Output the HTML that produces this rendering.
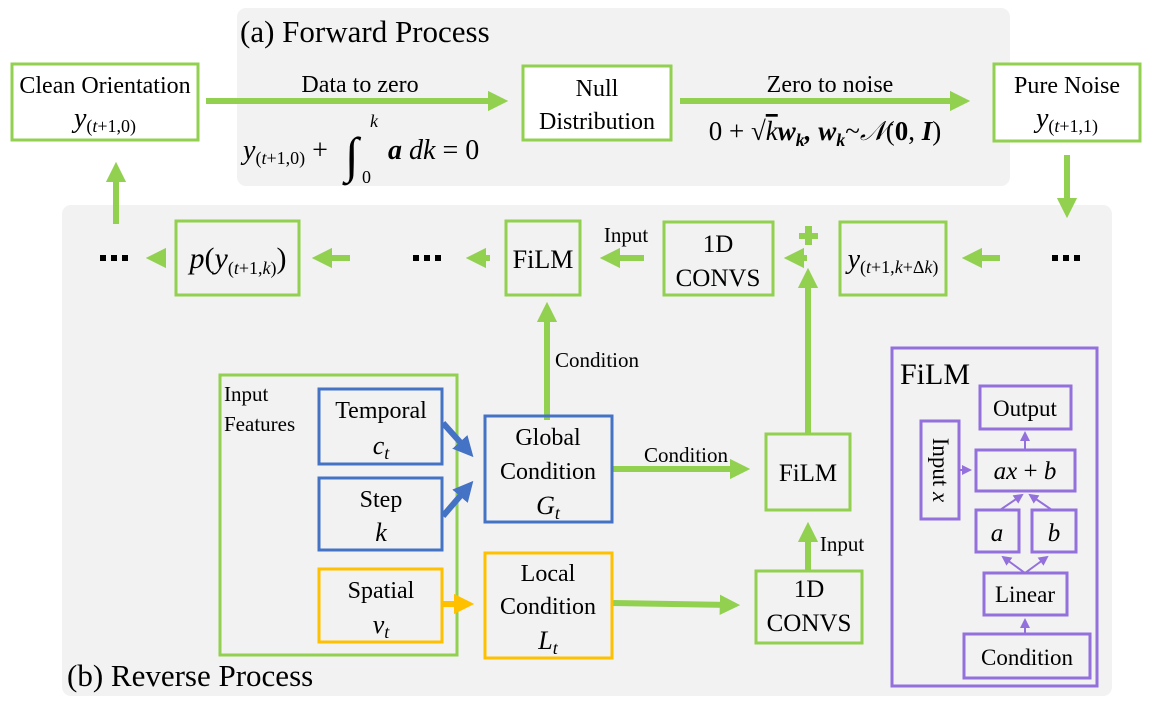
<!DOCTYPE html>
<html><head><meta charset="utf-8"><style>
html,body{margin:0;padding:0;background:#fff}
svg{display:block}
text,tspan{font-family:"Liberation Serif","DejaVu Serif",serif;fill:#000}
.m{font-style:italic}
</style></head><body>
<svg width="1152" height="709" viewBox="0 0 1152 709" xmlns="http://www.w3.org/2000/svg" font-family="Liberation Serif, serif">
<defs>
<marker id="g" viewBox="0 0 10 10" markerWidth="3.4" markerHeight="3.6" refX="6" refY="5" orient="auto" markerUnits="strokeWidth"><path d="M0,0 L10,5 L0,10z" fill="#92d050"/></marker>
<marker id="b" viewBox="0 0 10 10" markerWidth="3.4" markerHeight="3.6" refX="6" refY="5" orient="auto" markerUnits="strokeWidth"><path d="M0,0 L10,5 L0,10z" fill="#4472c4"/></marker>
<marker id="y" viewBox="0 0 10 10" markerWidth="3.4" markerHeight="3.6" refX="6" refY="5" orient="auto" markerUnits="strokeWidth"><path d="M0,0 L10,5 L0,10z" fill="#ffc000"/></marker>
<marker id="p" markerWidth="6" markerHeight="6" refX="4" refY="3" orient="auto" markerUnits="strokeWidth"><path d="M0,0.5 L5,3 L0,5.5z" fill="#9370db"/></marker>
</defs>
<rect x="237" y="8" width="773" height="178" rx="9" fill="#f2f2f2"/>
<rect x="62" y="205" width="1050" height="491" rx="9" fill="#f2f2f2"/>
<g fill="#fff" stroke="#92d050" stroke-width="3">
<rect x="12" y="64" width="186" height="76"/>
<rect x="523" y="66" width="148" height="74"/>
<rect x="994" y="64" width="146" height="77"/>
</g>
<g fill="none" stroke="#92d050" stroke-width="3">
<rect x="176" y="221" width="123" height="74"/>
<rect x="506" y="221" width="74" height="74"/>
<rect x="664" y="222" width="109" height="73"/>
<rect x="840" y="222" width="106" height="73"/>
<rect x="220" y="375" width="237" height="280"/>
<rect x="766" y="434" width="84" height="76"/>
<rect x="756" y="571" width="106" height="72"/>
</g>
<g stroke="#92d050" stroke-width="6" fill="none">
<line x1="206" y1="101" x2="500" y2="101" marker-end="url(#g)"/>
<line x1="680" y1="101" x2="962" y2="101" marker-end="url(#g)"/>
<line x1="116" y1="224" x2="116" y2="170" marker-end="url(#g)"/>
<line x1="1067" y1="155" x2="1067" y2="210" marker-end="url(#g)"/>
<line x1="165" y1="258" x2="154" y2="258" marker-end="url(#g)"/>
<line x1="350" y1="258" x2="320" y2="258" marker-end="url(#g)"/>
<line x1="490" y1="258" x2="474" y2="258" marker-end="url(#g)"/>
<line x1="644" y1="258" x2="608" y2="258" marker-end="url(#g)"/>
<line x1="807" y1="258" x2="792" y2="258" marker-end="url(#g)"/>
<line x1="1000" y1="258" x2="970" y2="258" marker-end="url(#g)"/>
<line x1="547" y1="420" x2="547" y2="310" marker-end="url(#g)"/>
<line x1="808" y1="433" x2="808" y2="276" marker-end="url(#g)"/>
<line x1="612" y1="469" x2="742" y2="469" marker-end="url(#g)"/>
<line x1="808" y1="570" x2="808" y2="530" marker-end="url(#g)"/>
<line x1="612" y1="603" x2="732" y2="605" marker-end="url(#g)"/>
</g>
<rect x="799" y="233" width="19" height="6" fill="#92d050"/><rect x="805" y="226" width="7" height="19" fill="#92d050"/>
<g fill="#000"><rect x="100" y="255" width="6" height="6"/><rect x="111" y="255" width="6" height="6"/><rect x="122" y="255" width="6" height="6"/>
<rect x="413" y="255" width="6" height="6"/><rect x="424" y="255" width="6" height="6"/><rect x="435" y="255" width="6" height="6"/>
<rect x="1052" y="255" width="6" height="6"/><rect x="1063" y="255" width="6" height="6"/><rect x="1074" y="255" width="6" height="6"/></g>
<g fill="none" stroke-width="3">
<rect x="319" y="389" width="123" height="75" stroke="#4472c4"/>
<rect x="319" y="478" width="123" height="72" stroke="#4472c4"/>
<rect x="485" y="416" width="127" height="106" stroke="#4472c4"/>
<rect x="319" y="569" width="123" height="73" stroke="#ffc000"/>
<rect x="485" y="553" width="127" height="105" stroke="#ffc000"/>
</g>
<g stroke-width="6" fill="none">
<line x1="443" y1="423" x2="468" y2="451" stroke="#4472c4" marker-end="url(#b)"/>
<line x1="443" y1="516" x2="468" y2="487" stroke="#4472c4" marker-end="url(#b)"/>
<line x1="443" y1="604" x2="466" y2="604" stroke="#ffc000" marker-end="url(#y)"/>
</g>
<g fill="none" stroke="#9370db" stroke-width="3">
<rect x="892" y="348" width="205" height="338"/>
<rect x="980" y="386" width="91" height="43"/>
<rect x="921" y="421" width="38" height="98"/>
<rect x="976" y="450" width="99" height="41"/>
<rect x="976" y="510" width="43" height="42"/>
<rect x="1032" y="510" width="44" height="42"/>
<rect x="984" y="573" width="83" height="42"/>
<rect x="964" y="634" width="126" height="44"/>
</g>
<g stroke="#9370db" stroke-width="2" fill="none">
<line x1="1025" y1="450" x2="1025" y2="433" marker-end="url(#p)"/>
<line x1="959" y1="470" x2="970" y2="470" marker-end="url(#p)"/>
<line x1="1000" y1="510" x2="1022" y2="495" marker-end="url(#p)"/>
<line x1="1052" y1="510" x2="1030" y2="495" marker-end="url(#p)"/>
<line x1="1025" y1="573" x2="1003" y2="557" marker-end="url(#p)"/>
<line x1="1025" y1="573" x2="1047" y2="557" marker-end="url(#p)"/>
<line x1="1025" y1="634" x2="1025" y2="620" marker-end="url(#p)"/>
</g>
<g font-size="24" text-anchor="middle">
<text x="240" y="42" font-size="31" text-anchor="start">(a) Forward Process</text>
<text x="67" y="686" font-size="31" text-anchor="start">(b) Reverse Process</text>
<text x="105" y="93">Clean Orientation</text>
<text x="105" y="127" font-size="28" class="m">y<tspan font-size="18" font-style="normal" dy="5">(</tspan><tspan font-size="18">t</tspan><tspan font-size="18" font-style="normal">+1,0)</tspan></text>
<text x="360" y="92">Data to zero</text>
<text x="243" y="159" font-size="28" text-anchor="start" class="m">y<tspan font-size="18" font-style="normal" dy="5">(</tspan><tspan font-size="18">t</tspan><tspan font-size="18" font-style="normal">+1,0)</tspan><tspan font-style="normal" dy="-5"> +</tspan></text>
<text x="345" y="172" font-size="50" text-anchor="start" class="m">∫</text>
<text x="370" y="127" font-size="18" class="m" text-anchor="start">k</text>
<text x="362" y="183" font-size="18" text-anchor="start">0</text>
<text x="388" y="159" font-size="28" text-anchor="start"><tspan font-weight="bold" font-style="italic">a</tspan> <tspan class="m">dk</tspan> = 0</text>
<text x="597" y="96">Null</text>
<text x="597" y="129">Distribution</text>
<text x="830" y="92">Zero to noise</text>
<text x="825" y="140" font-size="27">0 + √<tspan class="m" text-decoration="overline">k</tspan><tspan font-weight="bold" font-style="italic">w<tspan font-size="18" dy="6">k</tspan><tspan dy="-6">, w</tspan><tspan font-size="18" dy="6">k</tspan></tspan><tspan dy="-6">~</tspan><tspan class="m">𝒩</tspan>(<tspan font-weight="bold">0</tspan>, <tspan font-weight="bold" font-style="italic">I</tspan>)</text>
<text x="1067" y="93">Pure Noise</text>
<text x="1067" y="127" font-size="28" class="m">y<tspan font-size="18" font-style="normal" dy="5">(</tspan><tspan font-size="18">t</tspan><tspan font-size="18" font-style="normal">+1,1)</tspan></text>
<text x="238" y="268" font-size="30" class="m">p<tspan font-style="normal">(</tspan>y<tspan font-size="18" font-style="normal" dy="6">(</tspan><tspan font-size="18">t</tspan><tspan font-size="18" font-style="normal">+1,</tspan><tspan font-size="18">k</tspan><tspan font-size="18" font-style="normal">)</tspan><tspan font-style="normal" dy="-6">)</tspan></text>
<text x="543" y="268" font-size="26">FiLM</text>
<text x="626" y="242" font-size="21">Input</text>
<text x="718" y="252" font-size="25">1D</text>
<text x="718" y="286" font-size="25">CONVS</text>
<text x="893" y="268" font-size="28" class="m">y<tspan font-size="18" font-style="normal" dy="5">(</tspan><tspan font-size="18">t</tspan><tspan font-size="18" font-style="normal">+1,</tspan><tspan font-size="18">k</tspan><tspan font-size="18" font-style="normal">+Δ</tspan><tspan font-size="18">k</tspan><tspan font-size="18" font-style="normal">)</tspan></text>
<text x="555" y="367" font-size="21" text-anchor="start">Condition</text>
<text x="224" y="401" font-size="21" text-anchor="start">Input</text>
<text x="224" y="431" font-size="21" text-anchor="start">Features</text>
<text x="381" y="418">Temporal</text>
<text x="381" y="454" font-size="26" class="m">c<tspan font-size="18" dy="5">t</tspan></text>
<text x="381" y="507">Step</text>
<text x="381" y="541" font-size="26" class="m">k</text>
<text x="381" y="598">Spatial</text>
<text x="381" y="633" font-size="26" class="m">v<tspan font-size="18" dy="5">t</tspan></text>
<text x="548" y="445">Global</text>
<text x="548" y="479">Condition</text>
<text x="548" y="514" font-size="26" class="m">G<tspan font-size="18" dy="5">t</tspan></text>
<text x="548" y="581">Local</text>
<text x="548" y="614">Condition</text>
<text x="548" y="649" font-size="26" class="m">L<tspan font-size="18" dy="5">t</tspan></text>
<text x="686" y="462" font-size="21">Condition</text>
<text x="808" y="481" font-size="25">FiLM</text>
<text x="842" y="551" font-size="21">Input</text>
<text x="809" y="597" font-size="25">1D</text>
<text x="809" y="631" font-size="25">CONVS</text>
<text x="900" y="384" font-size="30" text-anchor="start">FiLM</text>
<text x="1025" y="416" font-size="23">Output</text>
<text x="1025" y="479" font-size="25" class="m">ax <tspan font-style="normal">+</tspan> b</text>
<text x="997" y="541" font-size="25" class="m">a</text>
<text x="1054" y="541" font-size="25" class="m">b</text>
<text x="1025" y="602" font-size="23">Linear</text>
<text x="1027" y="665" font-size="23">Condition</text>
<text transform="translate(933,470) rotate(90)" font-size="23">Input <tspan class="m">x</tspan></text>
</g>
</svg>
</body></html>
